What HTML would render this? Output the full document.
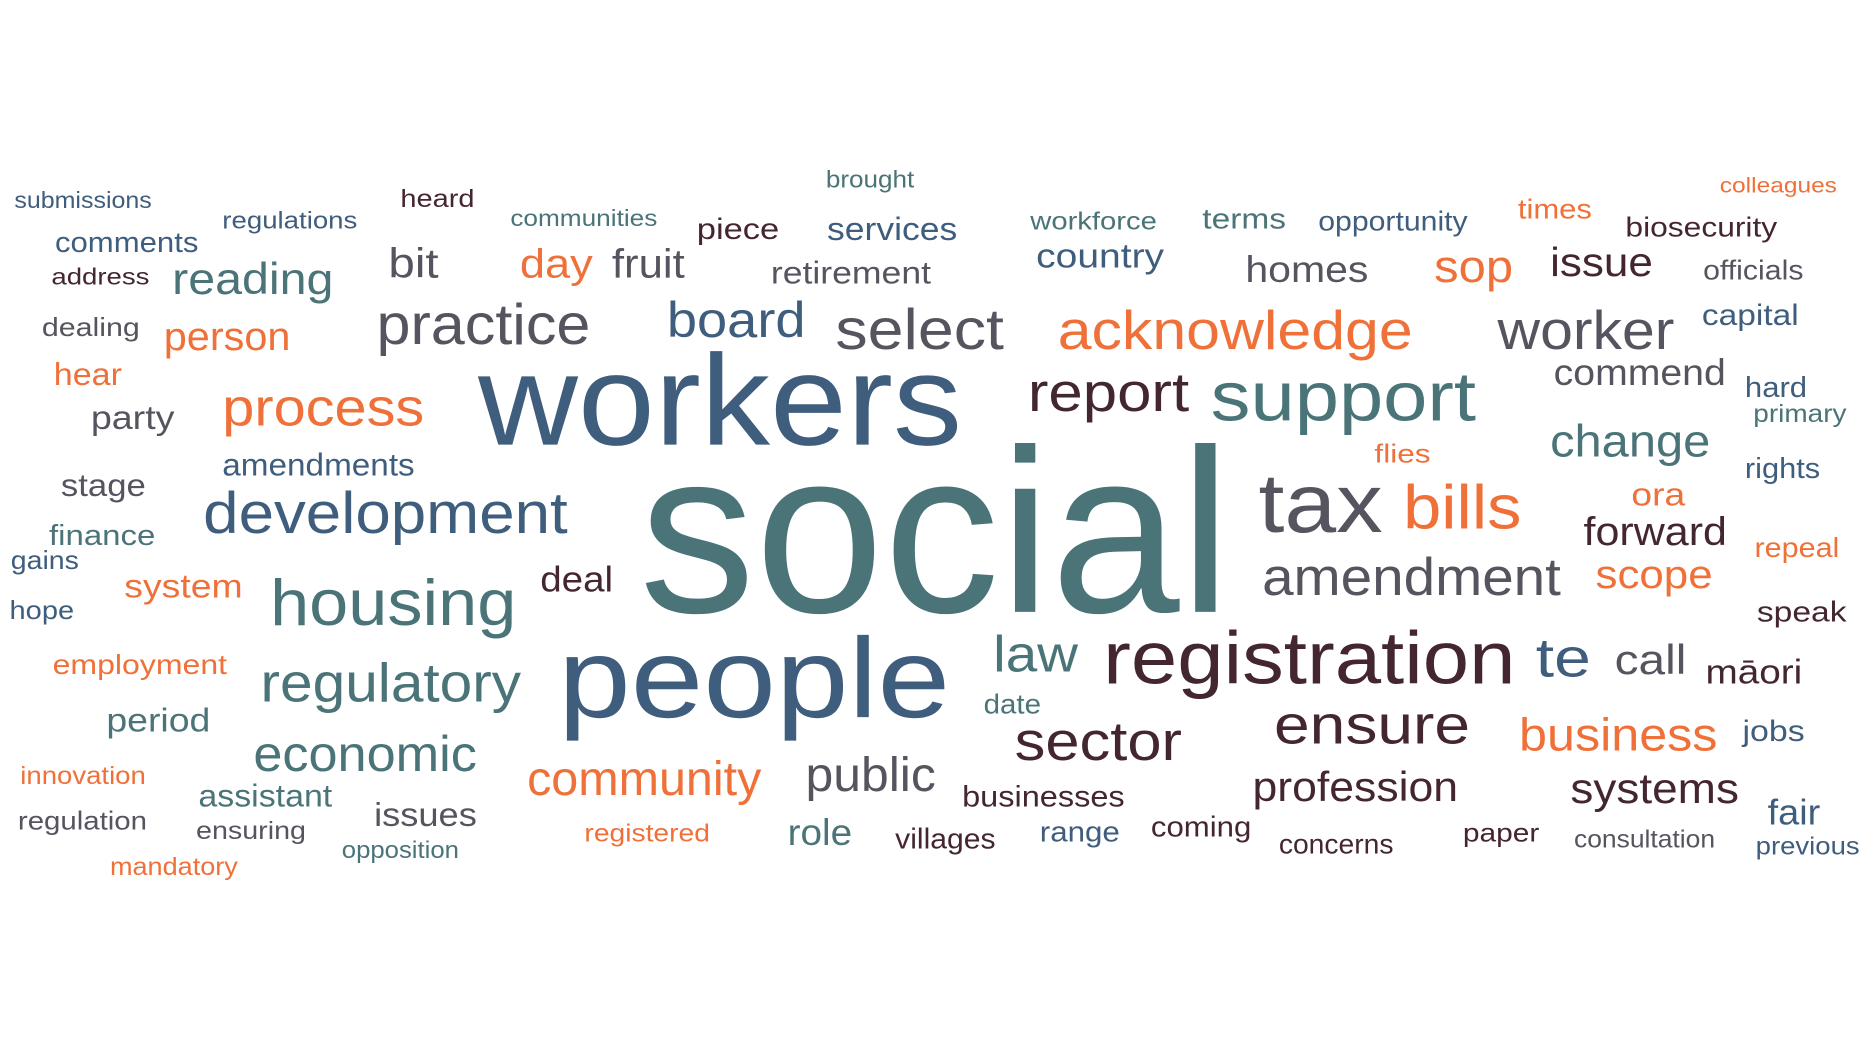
<!DOCTYPE html>
<html><head><meta charset="utf-8"><title>Word cloud</title>
<style>html,body{margin:0;padding:0;background:#fff;width:1874px;height:1046px;overflow:hidden}
svg{display:block}text{font-family:"Liberation Sans",Arial,sans-serif}</style></head>
<body>
<svg id="cloud" width="1874" height="1046" viewBox="0 0 1568 875.2" xmlns="http://www.w3.org/2000/svg"></svg>
<script>
const words = ["submissions","regulations","heard","brought","communities","piece","services","workforce","terms","opportunity","times","colleagues","biosecurity","comments","address","reading","bit","day","fruit","retirement","country","homes","sop","issue","officials","dealing","person","practice","board","select","acknowledge","worker","capital","hear","workers","report","support","commend","hard","primary","party","process","change","amendments","flies","rights","stage","social","tax","bills","ora","development","forward","repeal","finance","gains","deal","amendment","scope","system","housing","hope","speak","people","law","registration","te","call","māori","employment","regulatory","date","period","sector","ensure","business","jobs","economic","community","public","innovation","profession","systems","assistant","businesses","fair","regulation","issues","ensuring","registered","role","villages","range","coming","concerns","paper","consultation","previous","opposition","mandatory"];
const weights = [19,20,21,20,19,25,27,21,24,23,23,18,23,24,19,37,35,34,34,26,29,31,38,34,23,22,33,48,42,48,46,46,25,26,108,46,58,31,24,21,28,44,38,26,22,24,26,195,70,52,27,49,33,23,24,22,30,44,33,28,54,22,24,95,43,62,46,35,29,23,46,23,28,46,46,39,25,42,40,40,21,35,36,26,25,30,22,28,21,21,31,24,24,24,23,22,21,21,20,21];
const colorIdx = [0,0,3,1,1,3,0,1,1,0,2,2,3,0,3,1,4,2,4,4,0,4,2,3,4,4,2,4,0,4,2,4,0,2,0,3,1,4,0,1,4,2,1,0,2,0,4,1,4,2,2,0,3,2,1,0,3,4,2,2,1,0,3,0,1,3,0,4,3,2,1,1,1,3,3,2,0,1,2,4,2,3,3,1,3,0,4,4,4,2,1,3,0,3,3,3,4,0,1,2];
const palette = ["#3f5d7d","#4b7478","#ef7139","#44262f","#56545f"];
// layout from word-cloud placement: [x, baseline, width]
const layout = [[12,172,115],[186,189,113],[335,171,62],[691,155,74],[427,187,123],[583,198,69],[692,199,109],[862,190,106],[1006,189,70],[1103,191,125],[1270,181,62],[1439,159,98],[1360,196,127],[46,209,120],[43,236,82],[144,244,135],[325,230,42],[435,230,61],[512,230,61],[645,235,134],[867,222,107],[1042,234,103],[1200,234,66],[1297,229,86],[1425,232,84],[35,279,82],[137,291,106],[315,286,179],[558,280,116],[699,290,141],[885,290,297],[1253,290,148],[1424,270,81],[45,320,57],[400,370,405],[860,342,135],[1013,350,222],[1300,320,144],[1460,330,52],[1467,351,78],[76,357,70],[186,354,169],[1297,380,134],[186,396,161],[1150,385,47],[1460,398,63],[51,413,71],[535,510,495],[1053,443,104],[1174,440,99],[1365,421,45],[170,444,305],[1325,454,120],[1468,464,71],[41,454,89],[9,474,57],[452,493,61],[1056,496,250],[1335,490,98],[104,498,99],[226,521,206],[8,516,54],[1470,518,75],[467,598,328],[831,560,71],[923,570,345],[1285,564,46],[1351,562,60],[1427,570,81],[44,562,146],[218,585,218],[823,595,48],[89,610,87],[849,634,140],[1066,620,164],[1271,626,166],[1458,618,52],[212,643,187],[441,663,196],[674,660,109],[17,654,105],[1048,668,172],[1314,670,141],[166,673,112],[805,673,136],[1479,688,44],[15,692,108],[313,689,86],[164,700,92],[489,702,105],[659,705,54],[749,708,84],[870,702,67],[963,698,84],[1070,712,96],[1224,702,64],[1317,707,118],[1469,713,87],[286,716,98],[92,730,107]];
const svg = document.getElementById('cloud');
const NS = "http://www.w3.org/2000/svg";
words.forEach((w,i)=>{
  const t = document.createElementNS(NS,'text');
  
  
  const L = layout[i];
  t.setAttribute('x', L[0]);
  t.setAttribute('y', L[1] + 2);
  t.setAttribute('font-size', weights[i]);
  t.setAttribute('fill', palette[colorIdx[i]]);
  t.setAttribute('textLength', L[2]);
  t.setAttribute('lengthAdjust', 'spacingAndGlyphs');
  t.textContent = w;
  svg.appendChild(t);
});
</script>
</body></html>
